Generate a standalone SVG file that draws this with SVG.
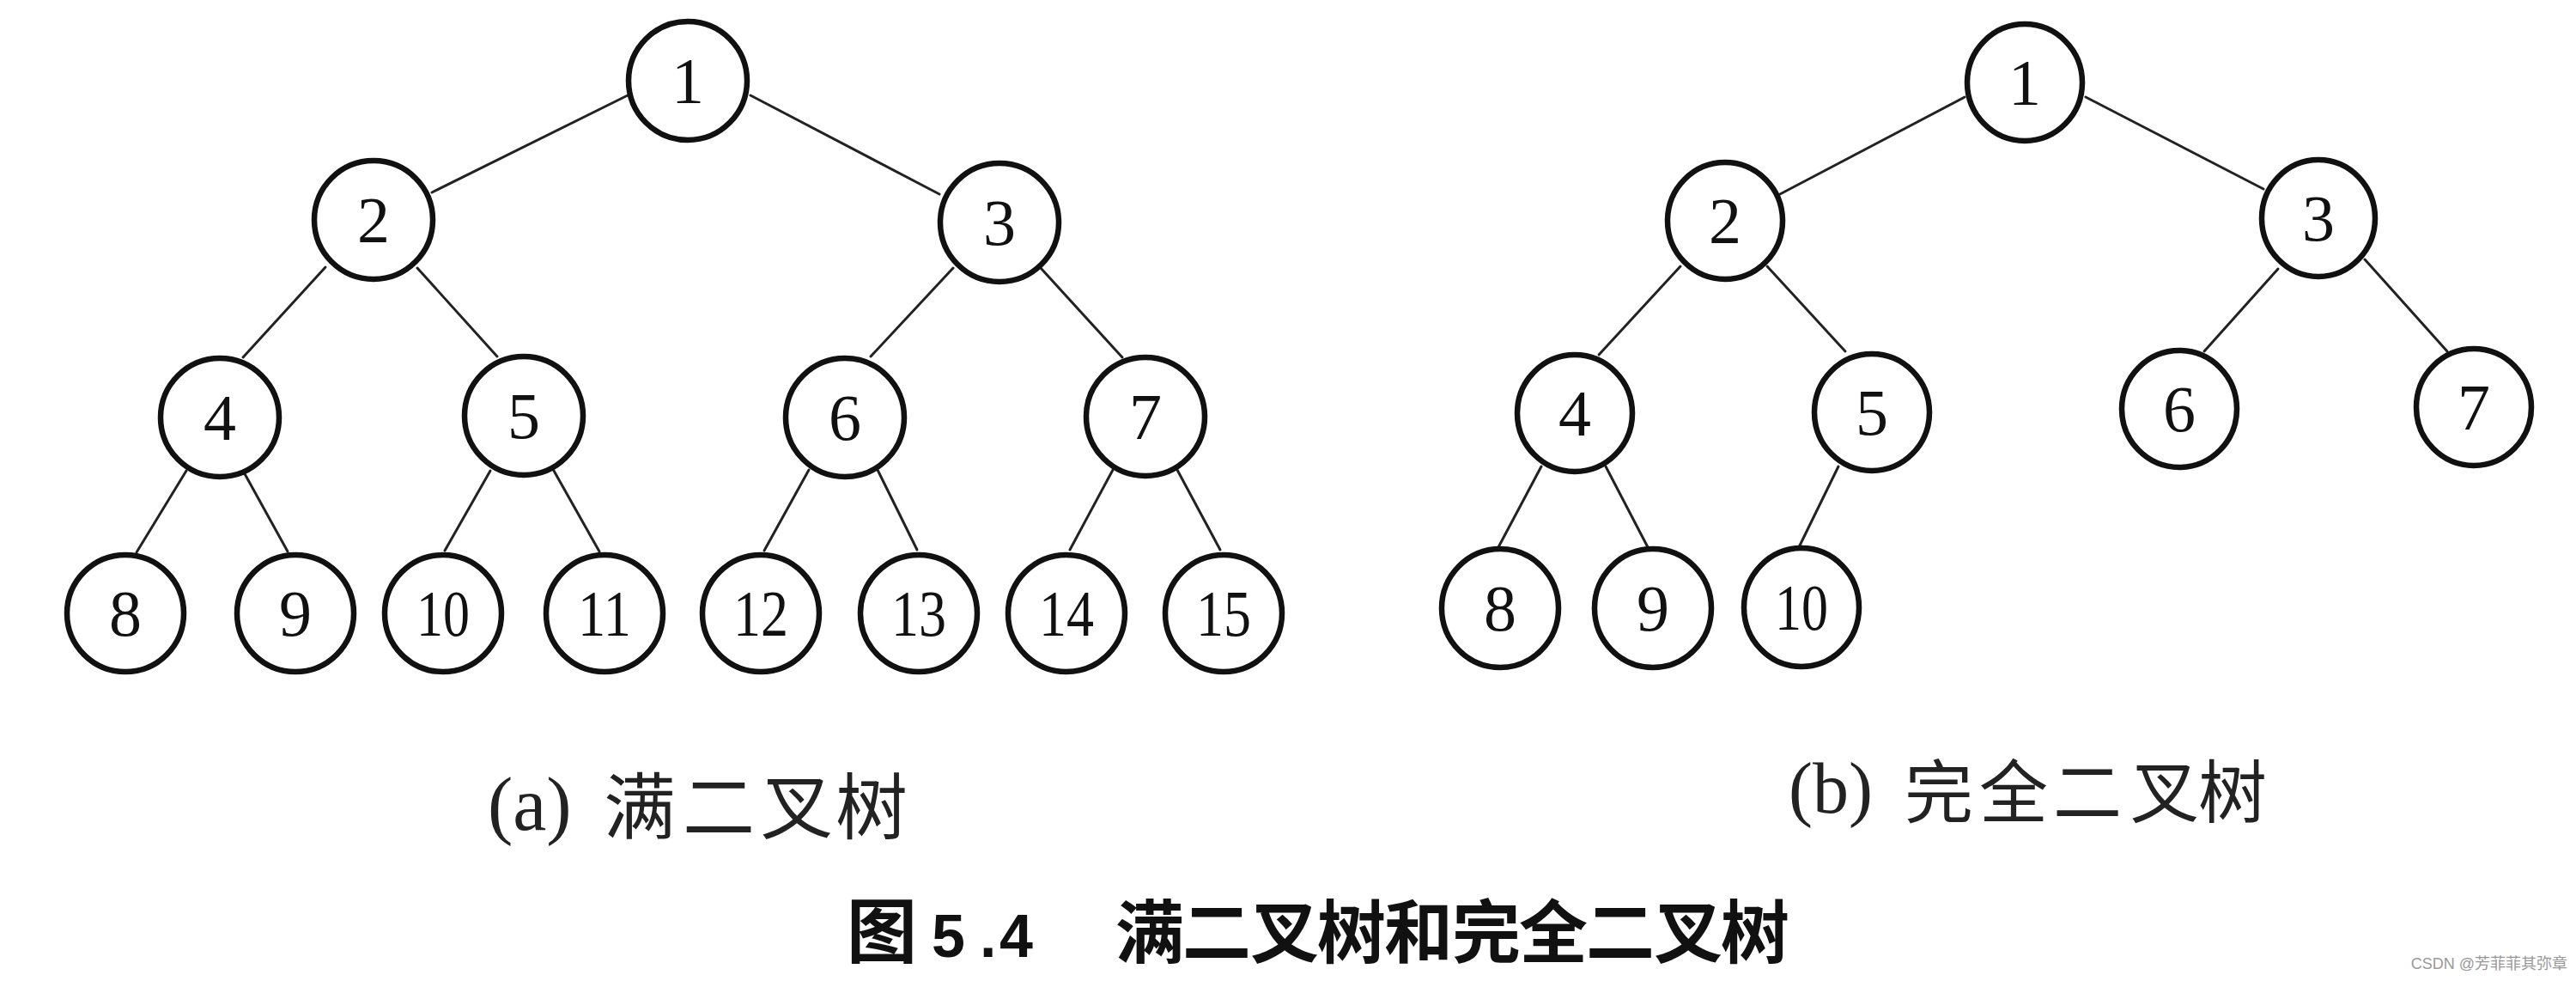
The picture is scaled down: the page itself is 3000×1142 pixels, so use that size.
<svg xmlns="http://www.w3.org/2000/svg" width="3000" height="1142" viewBox="0 0 3000 1142">
<style>
.n ellipse{fill:#fff;stroke:#111;stroke-width:6.5}
.n text{font-family:"Liberation Serif","Times New Roman",serif;font-size:76px;fill:#111;text-anchor:middle}
.e line{stroke:#222;stroke-width:3;stroke-linecap:round}
.cap{font-family:"Liberation Serif","Noto Sans CJK SC",serif;fill:#222}
.cjk{font-family:"Noto Sans CJK SC","Noto Sans CJK TC",sans-serif}
.title{font-family:"Noto Sans CJK SC",sans-serif;font-weight:bold;fill:#111}
</style>
<rect width="3000" height="1142" fill="#fff"/>
<g id="connectors" class="e">
<line x1="731" y1="111" x2="503" y2="224"/>
<line x1="874" y1="111" x2="1094" y2="226"/>
<line x1="379" y1="311" x2="283" y2="416"/>
<line x1="486" y1="312" x2="579" y2="415"/>
<line x1="1110" y1="312" x2="1014" y2="415"/>
<line x1="1212" y1="312" x2="1307" y2="416"/>
<line x1="217" y1="548" x2="159" y2="643"/>
<line x1="283" y1="548" x2="335" y2="642"/>
<line x1="571" y1="548" x2="518" y2="641"/>
<line x1="645" y1="548" x2="698" y2="642"/>
<line x1="942" y1="547" x2="890" y2="641"/>
<line x1="1022" y1="547" x2="1068" y2="640"/>
<line x1="1296" y1="547" x2="1246" y2="640"/>
<line x1="1371" y1="547" x2="1421" y2="640"/>
<line x1="2288" y1="113" x2="2073" y2="226"/>
<line x1="2429" y1="113" x2="2636" y2="220"/>
<line x1="1957" y1="310" x2="1862" y2="413"/>
<line x1="2058" y1="310" x2="2149" y2="409"/>
<line x1="2653" y1="313" x2="2567" y2="409"/>
<line x1="2754" y1="302" x2="2850" y2="409"/>
<line x1="1795" y1="543" x2="1745" y2="637"/>
<line x1="1870" y1="543" x2="1919" y2="637"/>
<line x1="2141" y1="543" x2="2095" y2="637"/>
</g>
<g id="a1" class="n"><ellipse cx="801" cy="94" rx="69" ry="69"/><text x="801" y="120">1</text></g>
<g id="a2" class="n"><ellipse cx="435" cy="256" rx="69" ry="69"/><text x="435" y="282">2</text></g>
<g id="a3" class="n"><ellipse cx="1164" cy="259" rx="69" ry="69"/><text x="1164" y="285">3</text></g>
<g id="a4" class="n"><ellipse cx="256" cy="486" rx="69" ry="69"/><text x="256" y="512">4</text></g>
<g id="a5" class="n"><ellipse cx="610" cy="484" rx="69" ry="69"/><text x="610" y="510">5</text></g>
<g id="a6" class="n"><ellipse cx="984" cy="486" rx="69" ry="69"/><text x="984" y="512">6</text></g>
<g id="a7" class="n"><ellipse cx="1334" cy="485" rx="69" ry="69"/><text x="1334" y="511">7</text></g>
<g id="a8" class="n"><ellipse cx="146" cy="714" rx="68" ry="68"/><text x="146" y="740">8</text></g>
<g id="a9" class="n"><ellipse cx="344" cy="714" rx="68" ry="68"/><text x="344" y="740">9</text></g>
<g id="a10" class="n"><ellipse cx="516" cy="714" rx="68" ry="68"/><text x="516" y="740" textLength="62" lengthAdjust="spacingAndGlyphs">10</text></g>
<g id="a11" class="n"><ellipse cx="704" cy="714" rx="68" ry="68"/><text x="704" y="740" textLength="62" lengthAdjust="spacingAndGlyphs">11</text></g>
<g id="a12" class="n"><ellipse cx="886" cy="714" rx="68" ry="68"/><text x="886" y="740" textLength="64" lengthAdjust="spacingAndGlyphs">12</text></g>
<g id="a13" class="n"><ellipse cx="1070" cy="714" rx="68" ry="68"/><text x="1070" y="740" textLength="64" lengthAdjust="spacingAndGlyphs">13</text></g>
<g id="a14" class="n"><ellipse cx="1242" cy="714" rx="68" ry="68"/><text x="1242" y="740" textLength="64" lengthAdjust="spacingAndGlyphs">14</text></g>
<g id="a15" class="n"><ellipse cx="1425" cy="714" rx="68" ry="68"/><text x="1425" y="740" textLength="64" lengthAdjust="spacingAndGlyphs">15</text></g>
<g id="b1" class="n"><ellipse cx="2358" cy="96" rx="67" ry="68"/><text x="2358" y="122">1</text></g>
<g id="b2" class="n"><ellipse cx="2009" cy="257" rx="67" ry="68"/><text x="2009" y="283">2</text></g>
<g id="b3" class="n"><ellipse cx="2700" cy="254" rx="66" ry="68"/><text x="2700" y="280">3</text></g>
<g id="b4" class="n"><ellipse cx="1834" cy="481" rx="67" ry="68"/><text x="1834" y="507">4</text></g>
<g id="b5" class="n"><ellipse cx="2180" cy="480" rx="67" ry="68"/><text x="2180" y="506">5</text></g>
<g id="b6" class="n"><ellipse cx="2538" cy="476" rx="67" ry="68"/><text x="2538" y="502">6</text></g>
<g id="b7" class="n"><ellipse cx="2881" cy="474" rx="67" ry="68"/><text x="2881" y="500">7</text></g>
<g id="b8" class="n"><ellipse cx="1747" cy="708" rx="68" ry="69"/><text x="1747" y="734">8</text></g>
<g id="b9" class="n"><ellipse cx="1925" cy="708" rx="68" ry="69"/><text x="1925" y="734">9</text></g>
<g id="b10" class="n"><ellipse cx="2098" cy="707" rx="67" ry="69"/><text x="2098" y="733" textLength="62" lengthAdjust="spacingAndGlyphs">10</text></g>
<g id="caption-a">
<text class="cap" x="568" y="966" font-size="88">(a)</text>
<text class="cap cjk" x="703 795 886 973" y="970" font-size="84">满二叉树</text>
</g>
<g id="caption-b">
<text class="cap" x="2083" y="946" font-size="84">(b)</text>
<text class="cap cjk" x="2218 2305 2391 2481 2560" y="951" font-size="80">完全二叉树</text>
</g>
<g id="title">
<text class="title" x="986" y="1114" font-size="82">图</text>
<text class="title" x="1085 1141 1164" y="1114" font-size="70" style="font-family:'Liberation Sans',Arial,sans-serif">5.4</text>
<text class="title" x="1299 1377 1456 1534 1612 1691 1769 1847 1926 2004" y="1114" font-size="80">满二叉树和完全二叉树</text>
</g>
<text x="2990" y="1128" font-size="18" fill="#999" text-anchor="end" font-family="'Liberation Sans','Noto Sans CJK SC',sans-serif">CSDN @芳菲菲其弥章</text>
</svg>
